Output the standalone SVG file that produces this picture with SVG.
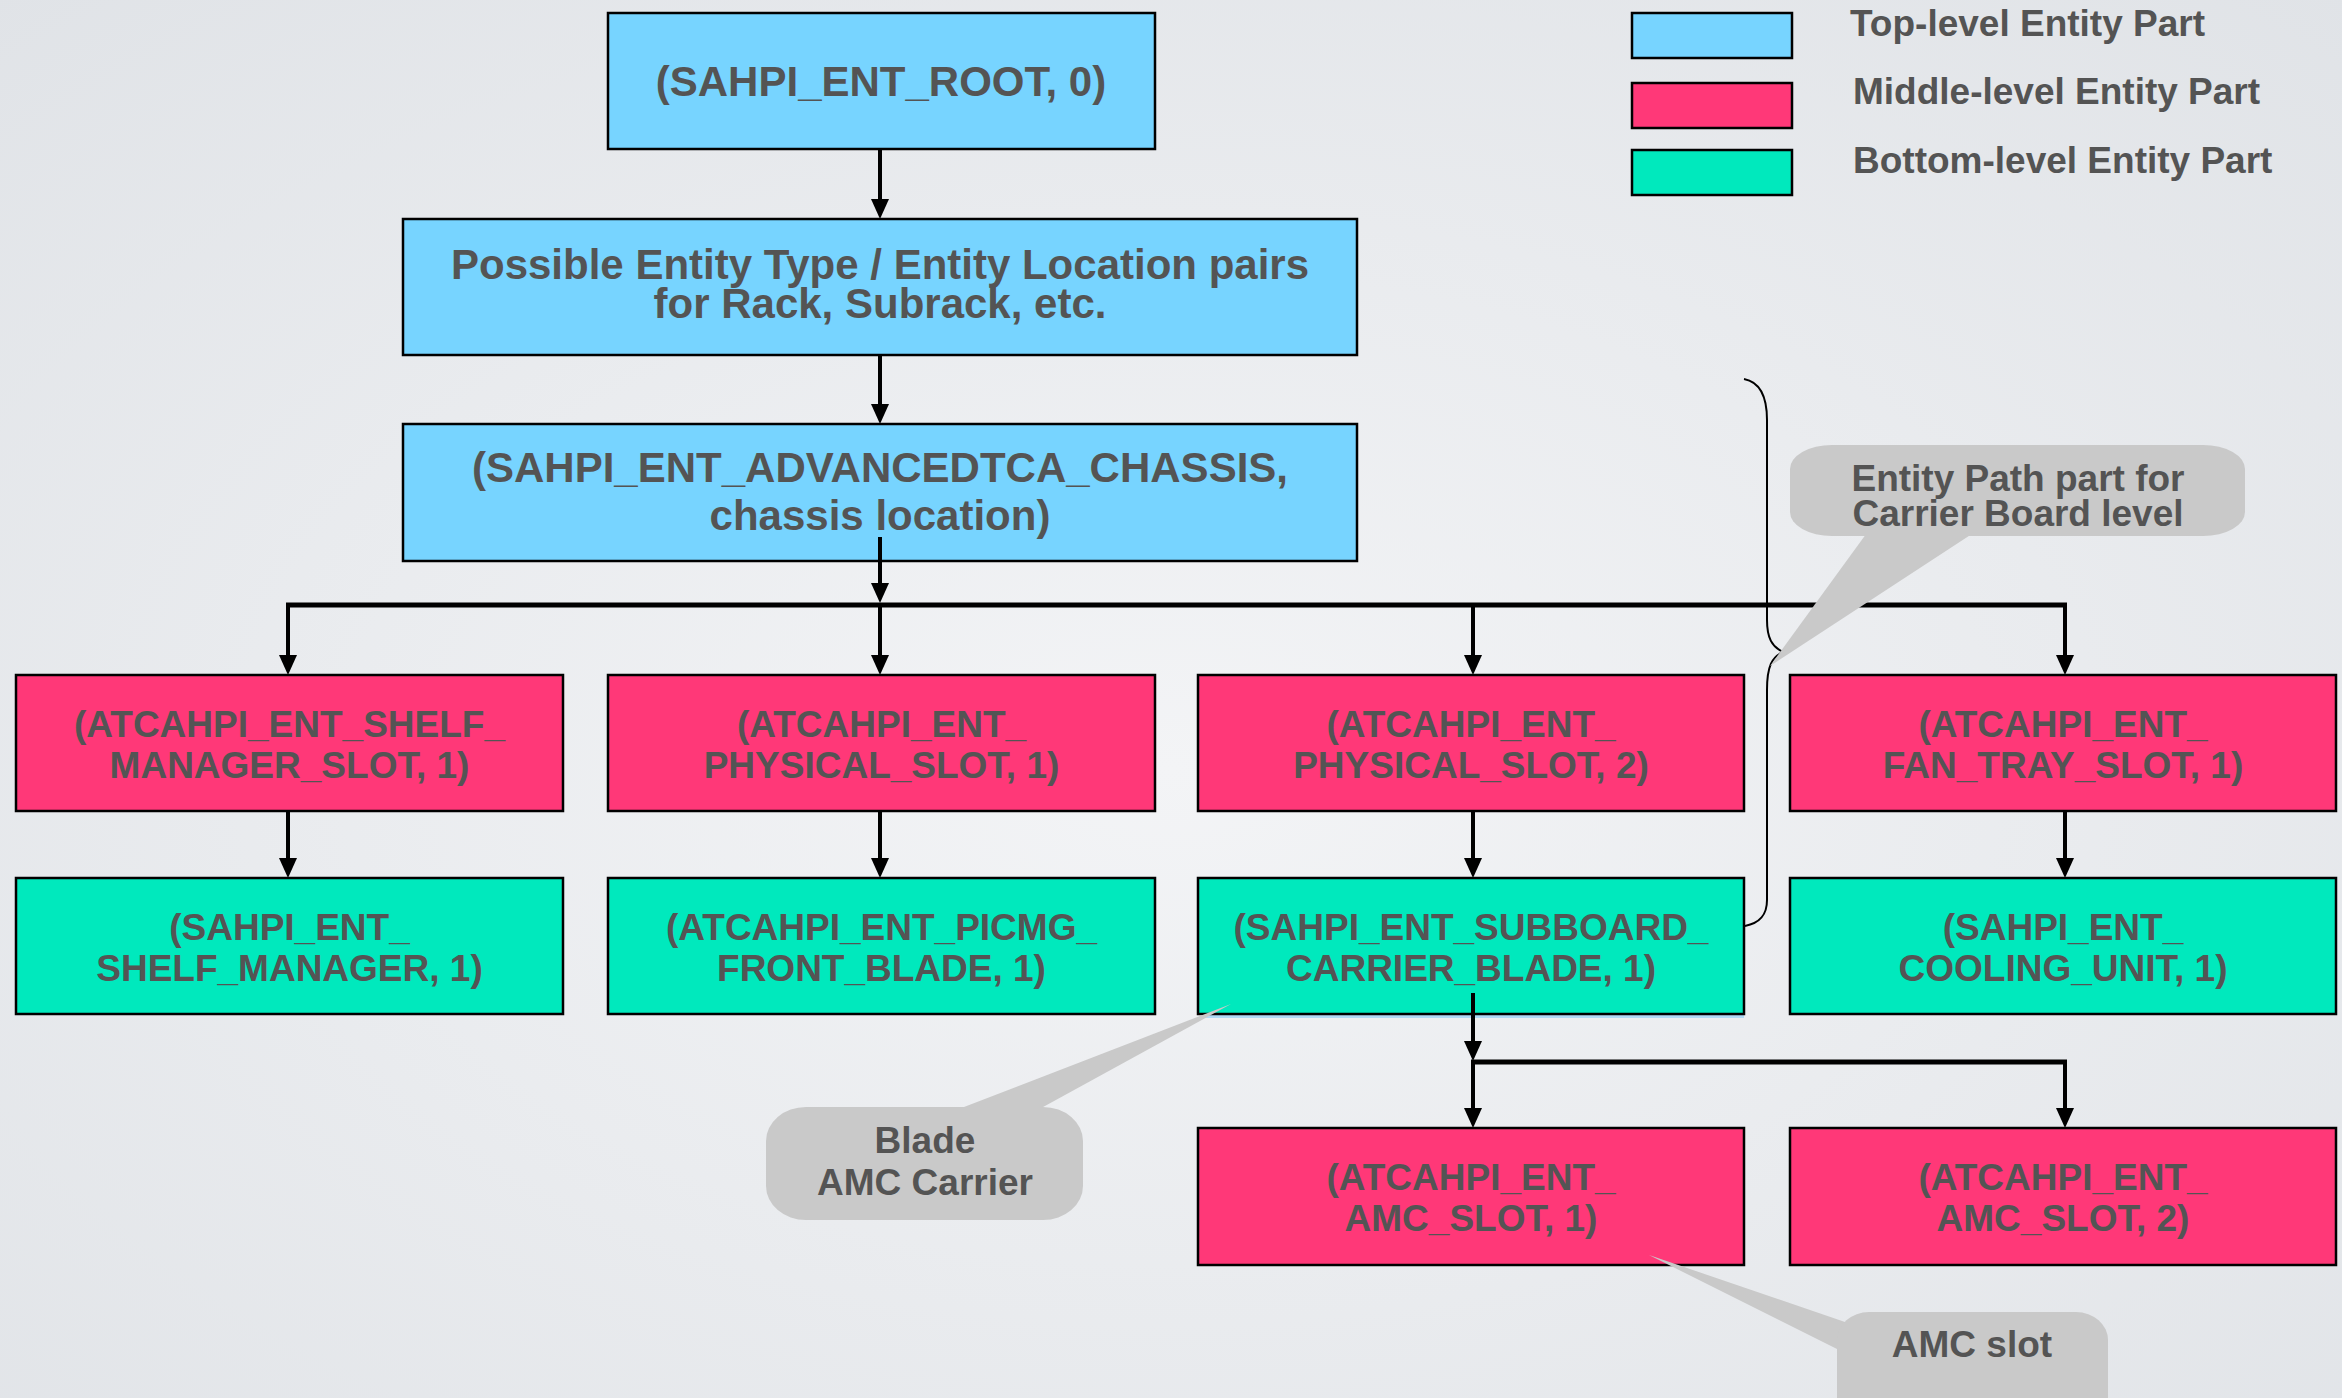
<svg xmlns="http://www.w3.org/2000/svg" width="2342" height="1398" viewBox="0 0 2342 1398">
<defs>
<radialGradient id="bg" cx="50%" cy="55%" r="75%">
<stop offset="0%" stop-color="#F3F4F6"/>
<stop offset="100%" stop-color="#E0E3E7"/>
</radialGradient>
<marker id="ah" viewBox="0 0 20 18" refX="14" refY="9" markerWidth="20" markerHeight="18" markerUnits="userSpaceOnUse" orient="auto">
<path d="M0,0 L20,9 L0,18 z" fill="#000"/>
</marker>
<style>
.box{stroke:#000;stroke-width:2.5}
.top{fill:#77D4FF}
.mid{fill:#FF3878}
.bot{fill:#00E9BD}
.t42{font-family:"Liberation Sans",Arial,sans-serif;font-weight:bold;font-size:42px;fill:#545454;text-anchor:middle}
.t37{font-family:"Liberation Sans",Arial,sans-serif;font-weight:bold;font-size:37px;fill:#545454;text-anchor:middle}
.leg{font-family:"Liberation Sans",Arial,sans-serif;font-weight:bold;font-size:37px;fill:#545454}
.arr{stroke:#000;stroke-width:4;fill:none;marker-end:url(#ah)}
.bus{stroke:#000;stroke-width:5;fill:none}
.call{fill:#C9C9C9}
</style>
</defs>
<rect width="2342" height="1398" fill="url(#bg)"/>

<g id="legend">
<rect class="box top" x="1632" y="13" width="160" height="45"/>
<rect class="box mid" x="1632" y="83" width="160" height="45"/>
<rect class="box bot" x="1632" y="150" width="160" height="45"/>
<text class="leg" x="1850" y="36">Top-level Entity Part</text>
<text class="leg" x="1853" y="104">Middle-level Entity Part</text>
<text class="leg" x="1853" y="173">Bottom-level Entity Part</text>
</g>

<g id="root">
<rect class="box top" x="608" y="13" width="547" height="136"/>
<text class="t42" x="881" y="96">(SAHPI_ENT_ROOT, 0)</text>
</g>
<g id="rack">
<rect class="box top" x="403" y="219" width="954" height="136"/>
<text class="t42" x="880" y="279">Possible Entity Type / Entity Location pairs</text>
<text class="t42" x="880" y="318">for Rack, Subrack, etc.</text>
</g>
<g id="chassis">
<rect class="box top" x="403" y="424" width="954" height="137"/>
<text class="t42" x="880" y="482">(SAHPI_ENT_ADVANCEDTCA_CHASSIS,</text>
<text class="t42" x="880" y="530">chassis location)</text>
</g>

<g id="shelfslot">
<rect class="box mid" x="16" y="675" width="547" height="136"/>
<text class="t37" x="289.5" y="737">(ATCAHPI_ENT_SHELF_</text>
<text class="t37" x="289.5" y="778">MANAGER_SLOT, 1)</text>
</g>
<g id="physslot1">
<rect class="box mid" x="608" y="675" width="547" height="136"/>
<text class="t37" x="881.5" y="737">(ATCAHPI_ENT_</text>
<text class="t37" x="881.5" y="778">PHYSICAL_SLOT, 1)</text>
</g>
<g id="physslot2">
<rect class="box mid" x="1198" y="675" width="546" height="136"/>
<text class="t37" x="1471" y="737">(ATCAHPI_ENT_</text>
<text class="t37" x="1471" y="778">PHYSICAL_SLOT, 2)</text>
</g>
<g id="fantray">
<rect class="box mid" x="1790" y="675" width="546" height="136"/>
<text class="t37" x="2063" y="737">(ATCAHPI_ENT_</text>
<text class="t37" x="2063" y="778">FAN_TRAY_SLOT, 1)</text>
</g>

<g id="shelfmgr">
<rect class="box bot" x="16" y="878" width="547" height="136"/>
<text class="t37" x="289.5" y="940">(SAHPI_ENT_</text>
<text class="t37" x="289.5" y="981">SHELF_MANAGER, 1)</text>
</g>
<g id="frontblade">
<rect class="box bot" x="608" y="878" width="547" height="136"/>
<text class="t37" x="881.5" y="940">(ATCAHPI_ENT_PICMG_</text>
<text class="t37" x="881.5" y="981">FRONT_BLADE, 1)</text>
</g>
<g id="carrier">
<line x1="1202" y1="1016.5" x2="1744" y2="1016.5" stroke="#B0DAF6" stroke-width="3"/>
<rect class="box bot" x="1198" y="878" width="546" height="136"/>
<text class="t37" x="1471" y="940">(SAHPI_ENT_SUBBOARD_</text>
<text class="t37" x="1471" y="981">CARRIER_BLADE, 1)</text>
</g>
<g id="cooling">
<rect class="box bot" x="1790" y="878" width="546" height="136"/>
<text class="t37" x="2063" y="940">(SAHPI_ENT_</text>
<text class="t37" x="2063" y="981">COOLING_UNIT, 1)</text>
</g>

<g id="amc1">
<rect class="box mid" x="1198" y="1128" width="546" height="137"/>
<text class="t37" x="1471" y="1190">(ATCAHPI_ENT_</text>
<text class="t37" x="1471" y="1231">AMC_SLOT, 1)</text>
</g>
<g id="amc2">
<rect class="box mid" x="1790" y="1128" width="546" height="137"/>
<text class="t37" x="2063" y="1190">(ATCAHPI_ENT_</text>
<text class="t37" x="2063" y="1231">AMC_SLOT, 2)</text>
</g>

<g id="connectors">
<line class="arr" x1="880" y1="149" x2="880" y2="213"/>
<line class="arr" x1="880" y1="355" x2="880" y2="418"/>
<line class="arr" x1="880" y1="537" x2="880" y2="597"/>
<line class="bus" x1="286" y1="605" x2="2067" y2="605"/>
<line class="arr" x1="288" y1="605" x2="288" y2="669"/>
<line class="arr" x1="880" y1="605" x2="880" y2="669"/>
<line class="arr" x1="1473" y1="605" x2="1473" y2="669"/>
<line class="arr" x1="2065" y1="605" x2="2065" y2="669"/>
<line class="arr" x1="288" y1="811" x2="288" y2="872"/>
<line class="arr" x1="880" y1="811" x2="880" y2="872"/>
<line class="arr" x1="1473" y1="811" x2="1473" y2="872"/>
<line class="arr" x1="2065" y1="811" x2="2065" y2="872"/>
<line class="arr" x1="1473" y1="993" x2="1473" y2="1055"/>
<line class="bus" x1="1471" y1="1062" x2="2067" y2="1062"/>
<line class="arr" x1="1473" y1="1062" x2="1473" y2="1122"/>
<line class="arr" x1="2065" y1="1062" x2="2065" y2="1122"/>
</g>

<g id="bracket">
<path d="M1744,379 C1760,382 1767,396 1767,420 L1767,620 C1767,638 1772,647 1783,652 C1772,657 1767,666 1767,690 L1767,900 C1767,915 1760,923 1745,926" fill="none" stroke="#000" stroke-width="2"/>
</g>

<g id="callout-entitypath">
<path class="call" d="M1869,530 L1770,666 L1978,530 z"/>
<rect class="call" x="1790" y="445" width="455" height="91" rx="42" ry="24"/>
<text class="t37" x="2018" y="491">Entity Path part for</text>
<text class="t37" x="2018" y="526">Carrier Board level</text>
</g>
<g id="callout-blade">
<path class="call" d="M951,1112 L1231,1004 L1034,1112 z"/>
<rect class="call" x="766" y="1107" width="317" height="113" rx="40" ry="34"/>
<text class="t37" x="925" y="1153">Blade</text>
<text class="t37" x="925" y="1195">AMC Carrier</text>
</g>
<g id="callout-amcslot">
<path class="call" d="M1845,1322 L1649,1255 L1845,1353 z"/>
<rect class="call" x="1837" y="1312" width="271" height="120" rx="32" ry="28"/>
<text class="t37" x="1972" y="1357">AMC slot</text>
</g>
</svg>
